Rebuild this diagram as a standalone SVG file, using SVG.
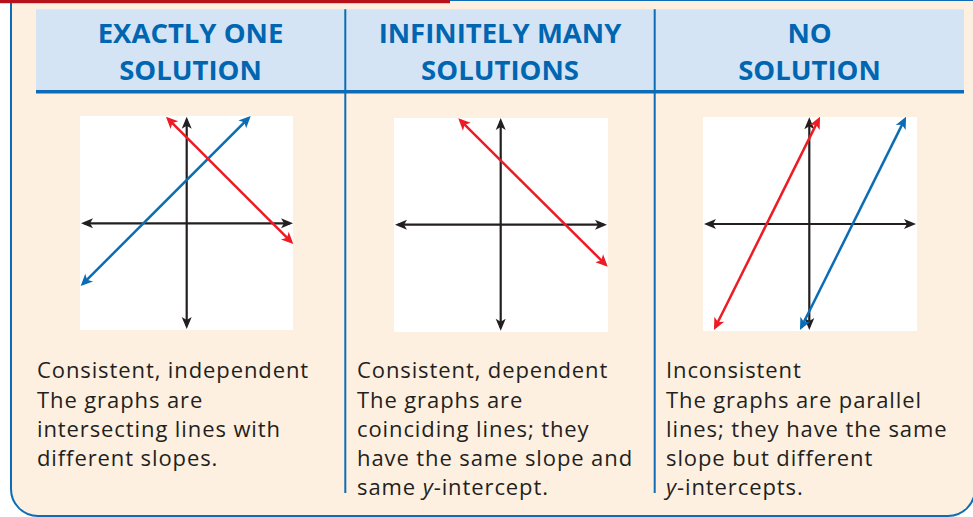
<svg xmlns="http://www.w3.org/2000/svg" width="973" height="517" viewBox="0 0 973 517">
<style>
.hd{font-family:"Open Sans","Liberation Sans",sans-serif;font-weight:bold;font-size:27.5px;fill:#0066b1;text-anchor:middle}
.tx{font-family:"Open Sans","Liberation Sans",sans-serif;font-size:22px;letter-spacing:0.9px;fill:#231f20}
.ax{stroke:#231f20;stroke-width:2.2;fill:none;marker-start:url(#ak);marker-end:url(#ak)}
.rl{stroke:#ed1c24;stroke-width:2.5;fill:none;marker-start:url(#ar);marker-end:url(#ar)}
.bl{stroke:#0b6cb6;stroke-width:2.5;fill:none;marker-start:url(#ab);marker-end:url(#ab)}
.dv{stroke:#0d6cb5;stroke-width:2}
</style>
<defs>
<marker id="ak" markerUnits="userSpaceOnUse" viewBox="-12 -6 16 12" markerWidth="16" markerHeight="12" refX="0" refY="0" orient="auto-start-reverse"><path d="M3,0 L-9,-5 L-6,0 L-9,5 Z" fill="#231f20"/></marker>
<marker id="ar" markerUnits="userSpaceOnUse" viewBox="-12 -6 16 12" markerWidth="16" markerHeight="12" refX="0" refY="0" orient="auto-start-reverse"><path d="M3,0 L-9,-5.5 L-6,0 L-9,5.5 Z" fill="#ed1c24"/></marker>
<marker id="ab" markerUnits="userSpaceOnUse" viewBox="-12 -6 16 12" markerWidth="16" markerHeight="12" refX="0" refY="0" orient="auto-start-reverse"><path d="M3,0 L-9,-5.5 L-6,0 L-9,5.5 Z" fill="#0b6cb6"/></marker>
</defs>
<rect width="973" height="517" fill="#ffffff"/>
<g id="frame">
<path d="M11,0 V489 A27,27 0 0 0 38,516 H948 A27,27 0 0 0 975,489 V0 Z" fill="#fdf0e1" stroke="#0d6cb5" stroke-width="2"/>
<rect x="0" y="0" width="450" height="3.2" fill="#b5121b"/>
</g>
<g id="header">
<rect x="36" y="9.3" width="928" height="81" fill="#d4e4f4"/>
<rect x="36" y="90" width="928" height="3.5" fill="#0d6cb5"/>
</g>
<g id="connectors">
<line class="dv" x1="345.3" y1="9.3" x2="345.3" y2="493"/>
<line class="dv" x1="654.7" y1="9.3" x2="654.7" y2="493"/>
</g>
<g id="col1">
<text class="hd" x="190.5" y="42.7">EXACTLY ONE</text>
<text class="hd" x="190.5" y="80">SOLUTION</text>
<g id="graph1">
<rect x="80" y="116" width="213" height="214" fill="#ffffff"/>
<line class="ax" x1="84" y1="223.3" x2="290" y2="223.3"/>
<line class="ax" x1="186.7" y1="119.7" x2="186.7" y2="326"/>
<line class="bl" x1="82.8" y1="283.9" x2="248.6" y2="118.1"/>
<line class="rl" x1="168.1" y1="118.8" x2="291.2" y2="241.9"/>
</g>
<text class="tx" x="37" y="378.3">Consistent, independent</text>
<text class="tx" x="37" y="407.5">The graphs are</text>
<text class="tx" x="37" y="436.7">intersecting lines with</text>
<text class="tx" x="37" y="466">different slopes.</text>
</g>
<g id="col2">
<text class="hd" x="500" y="42.7">INFINITELY MANY</text>
<text class="hd" x="500" y="80">SOLUTIONS</text>
<g id="graph2">
<rect x="394" y="118" width="214" height="214" fill="#ffffff"/>
<line class="ax" x1="398" y1="224.7" x2="604" y2="224.7"/>
<line class="ax" x1="500.7" y1="121" x2="500.7" y2="327.7"/>
<line class="rl" x1="460.4" y1="120.4" x2="605.6" y2="264.6"/>
</g>
<text class="tx" x="357" y="378.3">Consistent, dependent</text>
<text class="tx" x="357" y="407.5">The graphs are</text>
<text class="tx" x="357" y="436.7">coinciding lines; they</text>
<text class="tx" x="357" y="466">have the same slope and</text>
<text class="tx" x="357" y="495.2">same <tspan font-style="italic">y</tspan>-intercept.</text>
</g>
<g id="col3">
<text class="hd" x="809.5" y="42.7">NO</text>
<text class="hd" x="809.5" y="80">SOLUTION</text>
<g id="graph3">
<rect x="703" y="117" width="214" height="214" fill="#ffffff"/>
<line class="ax" x1="707" y1="224" x2="913" y2="224"/>
<line class="ax" x1="809.3" y1="120.3" x2="809.3" y2="327"/>
<line class="rl" x1="715.3" y1="327.3" x2="818.7" y2="119.4"/>
<line class="bl" x1="801.3" y1="327.3" x2="904.7" y2="119.4"/>
</g>
<text class="tx" x="666" y="378.3">Inconsistent</text>
<text class="tx" x="666" y="407.5">The graphs are parallel</text>
<text class="tx" x="666" y="436.7">lines; they have the same</text>
<text class="tx" x="666" y="466">slope but different</text>
<text class="tx" x="666" y="495.2"><tspan font-style="italic">y</tspan>-intercepts.</text>
</g>
</svg>
